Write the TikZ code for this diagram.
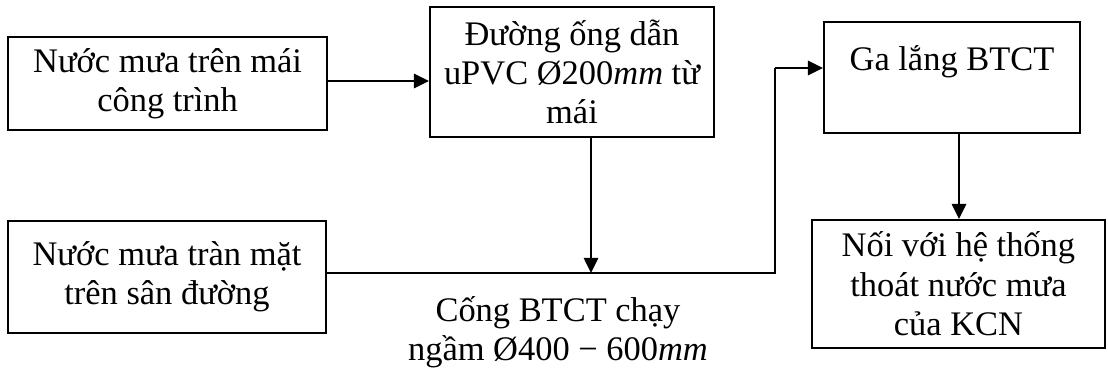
\documentclass[tikz,border=0pt]{standalone}
\usepackage{fontspec}
\setmainfont{Liberation Serif}
\usetikzlibrary{arrows.meta,positioning,calc}

\begin{document}
\begin{tikzpicture}[
    box/.style={rectangle, draw, line width=1.4pt, align=center, inner sep=2pt, font=\fontsize{24.5}{28}\selectfont},
    arrow/.style={-{Triangle[length=0.38cm,width=0.36cm]}, line width=1.4pt},
    line/.style={line width=1.4pt},
]
    \useasboundingbox (0,0) rectangle (27.7,9.3);
    \node[box, minimum width=7.975cm, minimum height=2.325cm] (roof) at (4.19,7.21) {Nước mưa trên mái\\công trình};
    \node[box, minimum width=7.1cm, minimum height=3.25cm] (pipe) at (14.3,7.5) {Đường ống dẫn\\uPVC Ø200\textit{mm} từ\\mái};
    \node[box, minimum width=7.95cm, minimum height=2.8cm] (yard) at (4.175,2.375) {Nước mưa tràn mặt\\trên sân đường};
    \node[box, minimum width=6.4cm, minimum height=2.775cm] (pit) at (23.8,7.3625) {Ga lắng BTCT\\\mbox{}};
    \node[box, minimum width=7.325cm, minimum height=3.2cm] (outlet) at (23.96,2.2) {Nối với hệ thống\\thoát nước mưa\\của KCN};
    \node[font=\fontsize{24.5}{28}\selectfont, align=center] (culvert) at (13.95,1.0) {Cống BTCT chạy\\ngầm Ø400 − 600\textit{mm}};
    \coordinate (jn) at (14.775,2.475);
    \coordinate (bend) at (19.375,2.475);
    \coordinate (entry) at (19.375,7.6);
    \draw[arrow] (roof.east |- 0,7.275) -- (pipe.west |- 0,7.275);
    \draw[arrow] (pipe.south -| jn) -- (jn);
    \draw[line] (yard.east |- jn) -- (bend) -- (entry);
    \draw[arrow] (entry) -- (pit.west |- entry);
    \draw[arrow] (pit.south -| 23.975,0) -- (outlet.north -| 23.975,0);
\end{tikzpicture}
\end{document}
